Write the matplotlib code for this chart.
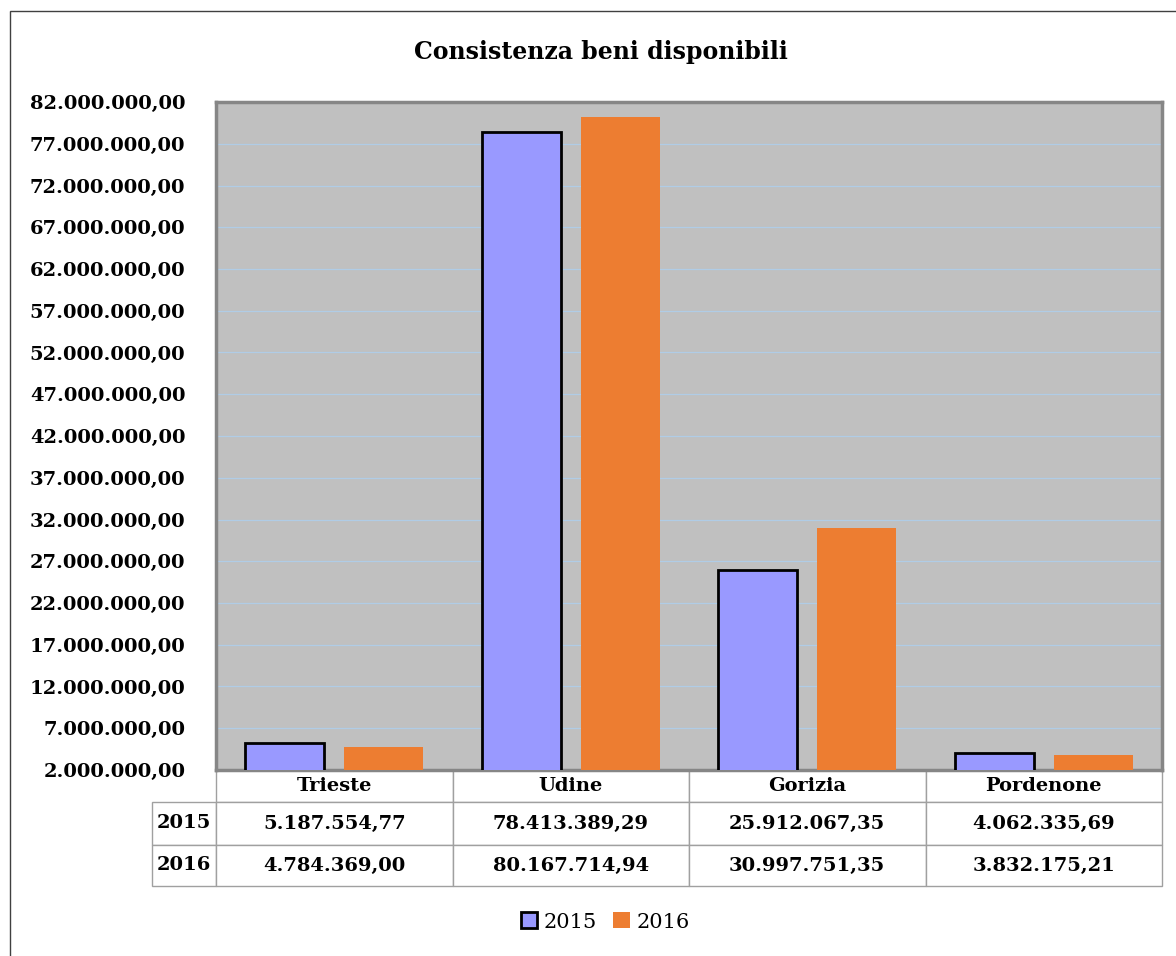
import numpy as np
import matplotlib
matplotlib.use("Agg")
import matplotlib.pyplot as plt
from matplotlib.patches import Patch, Rectangle

plt.rcParams['font.family'] = ['DejaVu Serif']

categories = ['Trieste', 'Udine', 'Gorizia', 'Pordenone']
series_names = ['2015', '2016']
values_2015 = [5187554.77, 78413389.29, 25912067.35, 4062335.69]
values_2016 = [4784369.00, 80167714.94, 30997751.35, 3832175.21]
y_ticks = np.arange(2000000, 82000001, 5000000)


def it_fmt(v):
    s = f"{v:,.2f}"
    return s.replace(',', 'X').replace('.', ',').replace('X', '.')


W, H = 1176, 956
fig = plt.figure(figsize=(W / 100, H / 100), dpi=100)
ax = fig.add_axes([216 / W, 1 - 770 / H, 946 / W, 668 / H])
ax.set_facecolor('#c0c0c0')

x = np.arange(len(categories))
bw = 0.334
ax.bar(x - 0.21, values_2015, bw, color='#9999ff', edgecolor='black', linewidth=2, zorder=3)
ax.bar(x + 0.21, values_2016, bw, color='#ed7d31', linewidth=0, zorder=3)

ax.set_xlim(-0.5, len(categories) - 0.5)
ax.set_ylim(2000000, 82000000)
ax.set_yticks(y_ticks)
ax.set_yticklabels([it_fmt(v) for v in y_ticks], fontsize=14, fontweight='bold')
ax.tick_params(axis='y', length=0, pad=22)
ax.set_xticks([])
ax.grid(axis='y', color='#b0cce6', linewidth=0.9, zorder=1)
for s in ax.spines.values():
    s.set_color('#868686')
    s.set_linewidth(2.5)

# data table below the plot
cell_text = [[series_names[0]] + [it_fmt(v) for v in values_2015],
             [series_names[1]] + [it_fmt(v) for v in values_2016]]
tab = ax.table(cellText=cell_text, colLabels=[''] + categories,
               cellLoc='center', bbox=[-64 / 946, -116 / 668, 1 + 64 / 946, 116 / 668])
tab.auto_set_font_size(False)
tab.set_fontsize(14)
for (r, c), cell in tab.get_celld().items():
    cell.set_edgecolor('#a0a0a0')
    cell.set_linewidth(1)
    cell.set_width(64 if c == 0 else 236.5)
    cell.set_height([32, 43, 41][r])
    cell.get_text().set_fontweight('bold')
tab[(0, 0)].set_visible(False)

fig.text(601 / W, 1 - 52 / H, 'Consistenza beni disponibili', ha='center', va='center',
         fontsize=17, fontweight='bold')

handles = [Patch(facecolor='#9999ff', edgecolor='black', linewidth=2),
           Patch(facecolor='#ed7d31', edgecolor='none')]
fig.legend(handles, series_names, loc='center', bbox_to_anchor=(605 / W, 1 - 922 / H),
           ncol=2, frameon=False, fontsize=15,
           handlelength=0.8, handleheight=0.8, handletextpad=0.3, columnspacing=0.8)

fig.patches.append(Rectangle((10 / W, -0.01), 1.0, (H - 11) / H + 0.01, fill=False,
                             edgecolor='#404040', linewidth=1, transform=fig.transFigure))

fig.savefig('out.png', dpi=100)
